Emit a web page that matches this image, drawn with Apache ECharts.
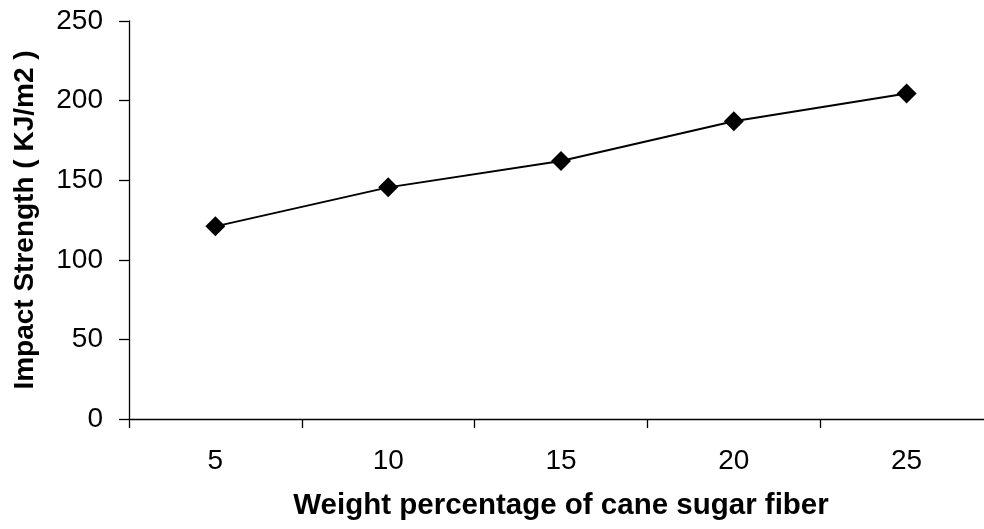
<!DOCTYPE html>
<html>
<head>
<meta charset="utf-8">
<script src="https://cdn.jsdelivr.net/npm/echarts@6/dist/echarts.min.js"></script>
<style>
  html, body { margin: 0; padding: 0; background: #fff; }
  #chart { width: 984px; height: 529px; }
</style>
</head>
<body>
<div id="chart"></div>
<script>
// weight percentage of cane sugar fiber
const fiberWeight = ['5', '10', '15', '20', '25']
// impact strength, KJ/m2
const impactStrength = [121, 145.5, 162, 187, 204.5]

const font = '"Liberation Sans", Arial, sans-serif'

const myChart = echarts.init(document.getElementById('chart'))
const option = {
  animation: false,
  grid: {
    left: 129,
    right: -9,
    top: 21,
    bottom: 110,
    containLabel: false,
    outerBoundsMode: 'none'
  },
  xAxis: {
    type: 'category',
    data: fiberWeight,
    boundaryGap: true,
    name: 'Weight percentage of cane sugar fiber',
    nameLocation: 'middle',
    nameGap: 72,
    nameTextStyle: { color: '#000', fontSize: 29.5, fontWeight: 'bold', fontFamily: font },
    axisLine: { lineStyle: { color: '#000', width: 1.3 } },
    axisTick: { show: true, length: 9, lineStyle: { color: '#000', width: 1.3 } },
    axisLabel: { color: '#000', fontSize: 28, fontFamily: font, margin: 28 },
    splitLine: { show: false }
  },
  yAxis: {
    type: 'value',
    min: 0,
    max: 250,
    interval: 50,
    name: 'Impact Strength ( KJ/m2 )',
    nameLocation: 'middle',
    nameGap: 90,
    nameTextStyle: { color: '#000', fontSize: 28, fontWeight: 'bold', fontFamily: font },
    axisLine: { show: true, lineStyle: { color: '#000', width: 1.3 } },
    axisTick: { show: true, length: 10, lineStyle: { color: '#000', width: 1.3 } },
    axisLabel: { color: '#000', fontSize: 28, fontFamily: font, margin: 26 },
    splitLine: { show: false }
  },
  series: [
    {
      type: 'line',
      data: impactStrength,
      symbol: 'diamond',
      symbolSize: 20,
      lineStyle: { color: '#000', width: 2 },
      itemStyle: { color: '#000' }
    }
  ]
}
myChart.setOption(option)
</script>
</body>
</html>
